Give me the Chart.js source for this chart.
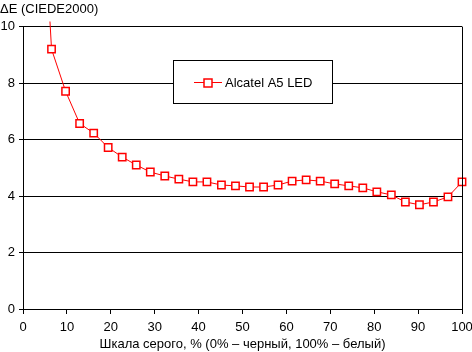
<!DOCTYPE html>
<html>
<head>
<meta charset="utf-8">
<script src="https://cdn.jsdelivr.net/npm/chart.js@4/dist/chart.umd.min.js"></script>
<style>
  html, body { margin: 0; padding: 0; background: #fff; }
  #wrap { width: 472px; height: 352px; }
</style>
</head>
<body>
<div id="wrap"><canvas id="chart"></canvas></div>
<script>
// ============ DATA ============

const grayLevels = [3.2, 6.5, 9.7, 12.9, 16.1, 19.4, 22.6, 25.8, 29.0, 32.3, 35.5,
  38.7, 41.9, 45.2, 48.4, 51.6, 54.8, 58.1, 61.3, 64.5, 67.7, 71.0, 74.2, 77.4,
  80.6, 83.9, 87.1, 90.3, 93.5, 96.8, 100];
const deltaE = [18.3, 9.2, 7.71, 6.57, 6.23, 5.72, 5.38, 5.10, 4.85, 4.71, 4.60,
  4.50, 4.50, 4.39, 4.36, 4.32, 4.32, 4.39, 4.53, 4.57, 4.53, 4.43, 4.36, 4.29,
  4.15, 4.04, 3.79, 3.69, 3.79, 3.97, 4.50];
const seriesName = 'Alcatel A5 LED';
const xTicks = [0, 10, 20, 30, 40, 50, 60, 70, 80, 90, 100];
const yTicks = [0, 2, 4, 6, 8, 10];

const FONT = 'Arial, "Liberation Sans", sans-serif';

// ============ PLUGINS ============

// right edge of the plot + legend box inside the plot area
const framePlugin = {
  id: 'frame',
  afterDraw(chart) {
    const { ctx, chartArea: a } = chart;
    ctx.save();
    ctx.strokeStyle = '#000';
    ctx.lineWidth = 1;
    ctx.beginPath();
    ctx.moveTo(Math.round(a.right) + 0.5, a.top);
    ctx.lineTo(Math.round(a.right) + 0.5, a.bottom);
    ctx.stroke();

    // legend
    const lx = 173, ly = 60, lw = 159, lh = 43;
    ctx.fillStyle = '#fff';
    ctx.fillRect(lx, ly, lw, lh);
    ctx.strokeRect(lx + 0.5, ly + 0.5, lw, lh);
    const cy = ly + 22;
    ctx.strokeStyle = '#ff0000';
    ctx.beginPath();
    ctx.moveTo(194, cy + 0.5);
    ctx.lineTo(222, cy + 0.5);
    ctx.stroke();
    ctx.fillStyle = '#fff';
    ctx.fillRect(204, cy - 3, 8, 8);
    ctx.lineWidth = 1.5;
    ctx.strokeRect(204, cy - 3, 8, 8);
    ctx.fillStyle = '#000';
    ctx.font = '13px ' + FONT;
    ctx.textBaseline = 'middle';
    ctx.fillText(seriesName, 225, cy + 1);
    ctx.restore();
  }
};

// ============ CHART ============

new Chart(document.getElementById('chart'), {
  type: 'line',
  data: {
    datasets: [{
      label: seriesName,
      data: grayLevels.map((x, i) => ({ x: x, y: deltaE[i] })),
      borderColor: '#ff0000',
      borderWidth: 1,
      backgroundColor: '#fff',
      pointStyle: 'rect',
      pointRadius: 5.2,
      pointBorderWidth: 1.5,
      pointBorderColor: '#ff0000',
      pointBackgroundColor: '#fff',
      tension: 0,
      clip: { left: 5, top: 5, right: 10, bottom: 5 }
    }]
  },
  options: {
    responsive: true,
    maintainAspectRatio: false,
    animation: false,
    layout: { padding: 0 },
    plugins: {
      legend: { display: false },
      tooltip: { enabled: false },
      title: {
        display: true,
        text: 'ΔE (CIEDE2000)',
        align: 'start',
        color: '#000',
        font: { family: FONT, size: 13, weight: 'normal' },
        padding: { top: 2, bottom: 9 }
      }
    },
    scales: {
      x: {
        type: 'linear',
        min: 0,
        max: 100,
        afterBuildTicks: (axis) => { axis.ticks = xTicks.map(v => ({ value: v })); },
        afterFit: (axis) => { axis.height = 43; axis.paddingRight = 10; axis.paddingLeft = 0; },
        ticks: { color: '#000', font: { family: FONT, size: 13 }, padding: 6, maxRotation: 0 },
        grid: { drawOnChartArea: false, drawTicks: true, tickLength: 5, color: '#000' },
        border: { color: '#000' },
        title: {
          display: true,
          text: 'Шкала серого, % (0% – черный, 100% – белый)',
          color: '#000',
          font: { family: FONT, size: 13 },
          padding: { top: 0, bottom: 0 }
        }
      },
      y: {
        min: 0,
        max: 10,
        afterBuildTicks: (axis) => { axis.ticks = yTicks.map(v => ({ value: v })); },
        afterFit: (axis) => { axis.width = 23; },
        ticks: { color: '#000', font: { family: FONT, size: 13 }, padding: 4 },
        grid: { color: '#000', tickLength: 4, lineWidth: 1 },
        border: { color: '#000' }
      }
    }
  },
  plugins: [framePlugin]
});
</script>
</body>
</html>
